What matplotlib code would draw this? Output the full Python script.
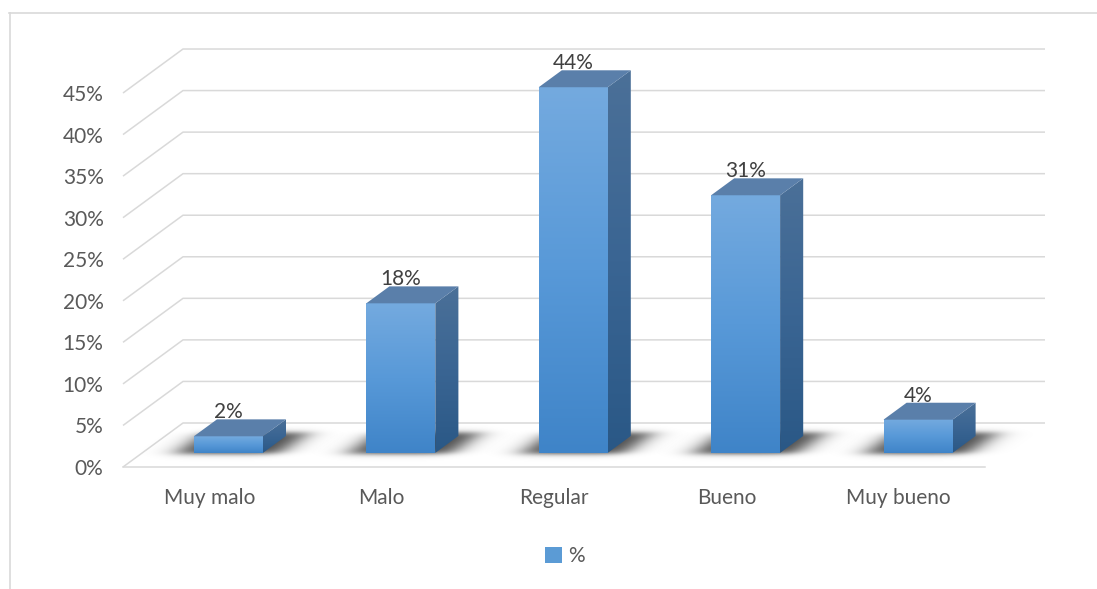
import numpy as np
import matplotlib
matplotlib.use("Agg")
import matplotlib.pyplot as plt
from matplotlib.colors import LinearSegmentedColormap
from matplotlib.patches import Polygon, Patch
from matplotlib.lines import Line2D

# ---- data ----
categories = ["Muy malo", "Malo", "Regular", "Bueno", "Muy bueno"]
values = [2, 18, 44, 31, 4]
data_labels = ["2%", "18%", "44%", "31%", "4%"]
yticks = [0, 5, 10, 15, 20, 25, 30, 35, 40, 45]
ytick_labels = ["0%", "5%", "10%", "15%", "20%", "25%", "30%", "35%", "40%", "45%"]
legend_label = "%"

# ---- layout (pixels) ----
W, H = 1097, 589
PX_LEFT, PX_RIGHT, PY_ZERO, PY_TOP = 123, 1045, 467, 40
CAT_PX = 172.4           # pixels per category
PCT_PX = 8.311           # pixels per percent
DX = 60 / CAT_PX         # depth offset in x units
DY = 44 / PCT_PX         # depth offset in y units
Z0, Z1 = 0.32, 0.705     # bar depth range
BAR_W = 69 / CAT_PX

FONT = "Lato"
plt.rcParams["font.family"] = [FONT, "DejaVu Sans"]

fig = plt.figure(figsize=(W / 100, H / 100), dpi=100)
fig.patch.set_facecolor("white")
ax = fig.add_axes([PX_LEFT / W, (H - PY_ZERO) / H, (PX_RIGHT - PX_LEFT) / W, (PY_ZERO - PY_TOP) / H])
n = len(categories)
xmin = -0.5
xmax = xmin + (PX_RIGHT - PX_LEFT) / CAT_PX
ymax = (PY_ZERO - PY_TOP) / PCT_PX
for s in ax.spines.values():
    s.set_visible(False)
ax.set_facecolor("none")

def proj(x, y, z):
    return (x + z * DX, y + z * DY)

grid_c = "#d9d9d9"
for v in yticks:
    p0 = proj(xmin, v, 0)
    p1 = proj(xmin, v, 1)
    p2 = proj(n - 0.5, v, 1)
    ax.plot([p0[0], p1[0], p2[0]], [p0[1], p1[1], p2[1]], color=grid_c, lw=1.1,
            zorder=1, clip_on=False, solid_capstyle="butt")
f0 = proj(xmin, 0, 0); f1 = proj(n - 0.5, 0, 0)
ax.plot([f0[0], f1[0]], [f0[1], f1[1]], color=grid_c, lw=1.1, zorder=1, clip_on=False)

front_cmap = LinearSegmentedColormap.from_list("front", ["#3f84c8", "#5899d8", "#74aadf"])
side_cmap = LinearSegmentedColormap.from_list("side", ["#2a5886", "#3a6593", "#4b7098"])
top_c = "#5a7faa"
grad = np.linspace(0, 1, 256).reshape(-1, 1)

def softbox(t, a, b, s):
    return 0.5 * (np.tanh((t - a) / s) - np.tanh((t - b) / s))

for i, (v, lab) in enumerate(zip(values, data_labels)):
    xl0, xr0 = i - BAR_W / 2, i + BAR_W / 2
    xc = i + Z0 * DX
    xl, xr = xc - BAR_W / 2, xc + BAR_W / 2
    yb = Z0 * DY
    yt = yb + v
    # soft shadow on the floor
    ex0, ex1 = xl0 - 0.4, xr0 + 0.4 + DX
    ey0, ey1 = -0.8, DY
    gx = np.linspace(ex0, ex1, 300)
    gy = np.linspace(ey0, ey1, 100)
    X, Y = np.meshgrid(gx, gy)
    Zd = Y / DY
    X0 = X - Zd * DX
    alpha = 0.72 * softbox(X0, xl0 - 0.1, xr0 + 0.1, 0.09) * softbox(Zd, Z0 - 0.02, Z1 + 0.08, 0.07)
    rgba = np.zeros(X.shape + (4,))
    rgba[..., 3] = np.clip(alpha, 0, 1)
    ax.imshow(rgba, extent=[ex0, ex1, ey0, ey1], origin="lower", aspect="auto",
              zorder=2, interpolation="bilinear")
    # front face
    ax.imshow(grad, extent=[xl, xr, yb, yt], origin="lower", aspect="auto",
              cmap=front_cmap, zorder=4, interpolation="bilinear")
    # side face
    side = [(xr, yb), proj(xr, yb, Z1 - Z0), proj(xr, yt, Z1 - Z0), (xr, yt)]
    sp = Polygon(side, closed=True, facecolor="none", edgecolor="none", transform=ax.transData)
    ax.add_patch(sp)
    im = ax.imshow(grad, extent=[xr, xr + (Z1 - Z0) * DX, yb, yt + (Z1 - Z0) * DY],
                   origin="lower", aspect="auto", cmap=side_cmap, zorder=4,
                   interpolation="bilinear")
    im.set_clip_path(sp)
    # top face
    top = [(xl, yt), (xr, yt), proj(xr, yt, Z1 - Z0), proj(xl, yt, Z1 - Z0)]
    ax.add_patch(Polygon(top, closed=True, facecolor=top_c, edgecolor="none", zorder=5))
    # data label
    ax.text(xc, yt + 24 / PCT_PX, lab, ha="center", va="center", fontsize=15,
            color="#404040", zorder=6)

ax.set_xlim(xmin, xmax)
ax.set_ylim(0, ymax)

ax.set_yticks(yticks)
ax.set_yticklabels(ytick_labels)
ax.set_xticks(range(n))
ax.set_xticklabels(categories)
ax.tick_params(axis="both", length=0, labelsize=15, labelcolor="#595959")
ax.tick_params(axis="y", pad=14)
ax.tick_params(axis="x", pad=15)

fig.legend(handles=[Patch(facecolor="#5b9bd5", edgecolor="none")], labels=[legend_label],
           loc="center", bbox_to_anchor=(565 / W, 1 - 556 / H), frameon=False,
           handlelength=0.8, handleheight=0.8, handletextpad=0.3, fontsize=15,
           labelcolor="#595959")

fig.add_artist(Line2D([9 / W, 1], [1 - 13 / H, 1 - 13 / H], color="#d9d9d9", lw=1.2))
fig.add_artist(Line2D([10 / W, 10 / W], [0, 1 - 13 / H], color="#d9d9d9", lw=1.2))

fig.savefig("out.png", dpi=100)
